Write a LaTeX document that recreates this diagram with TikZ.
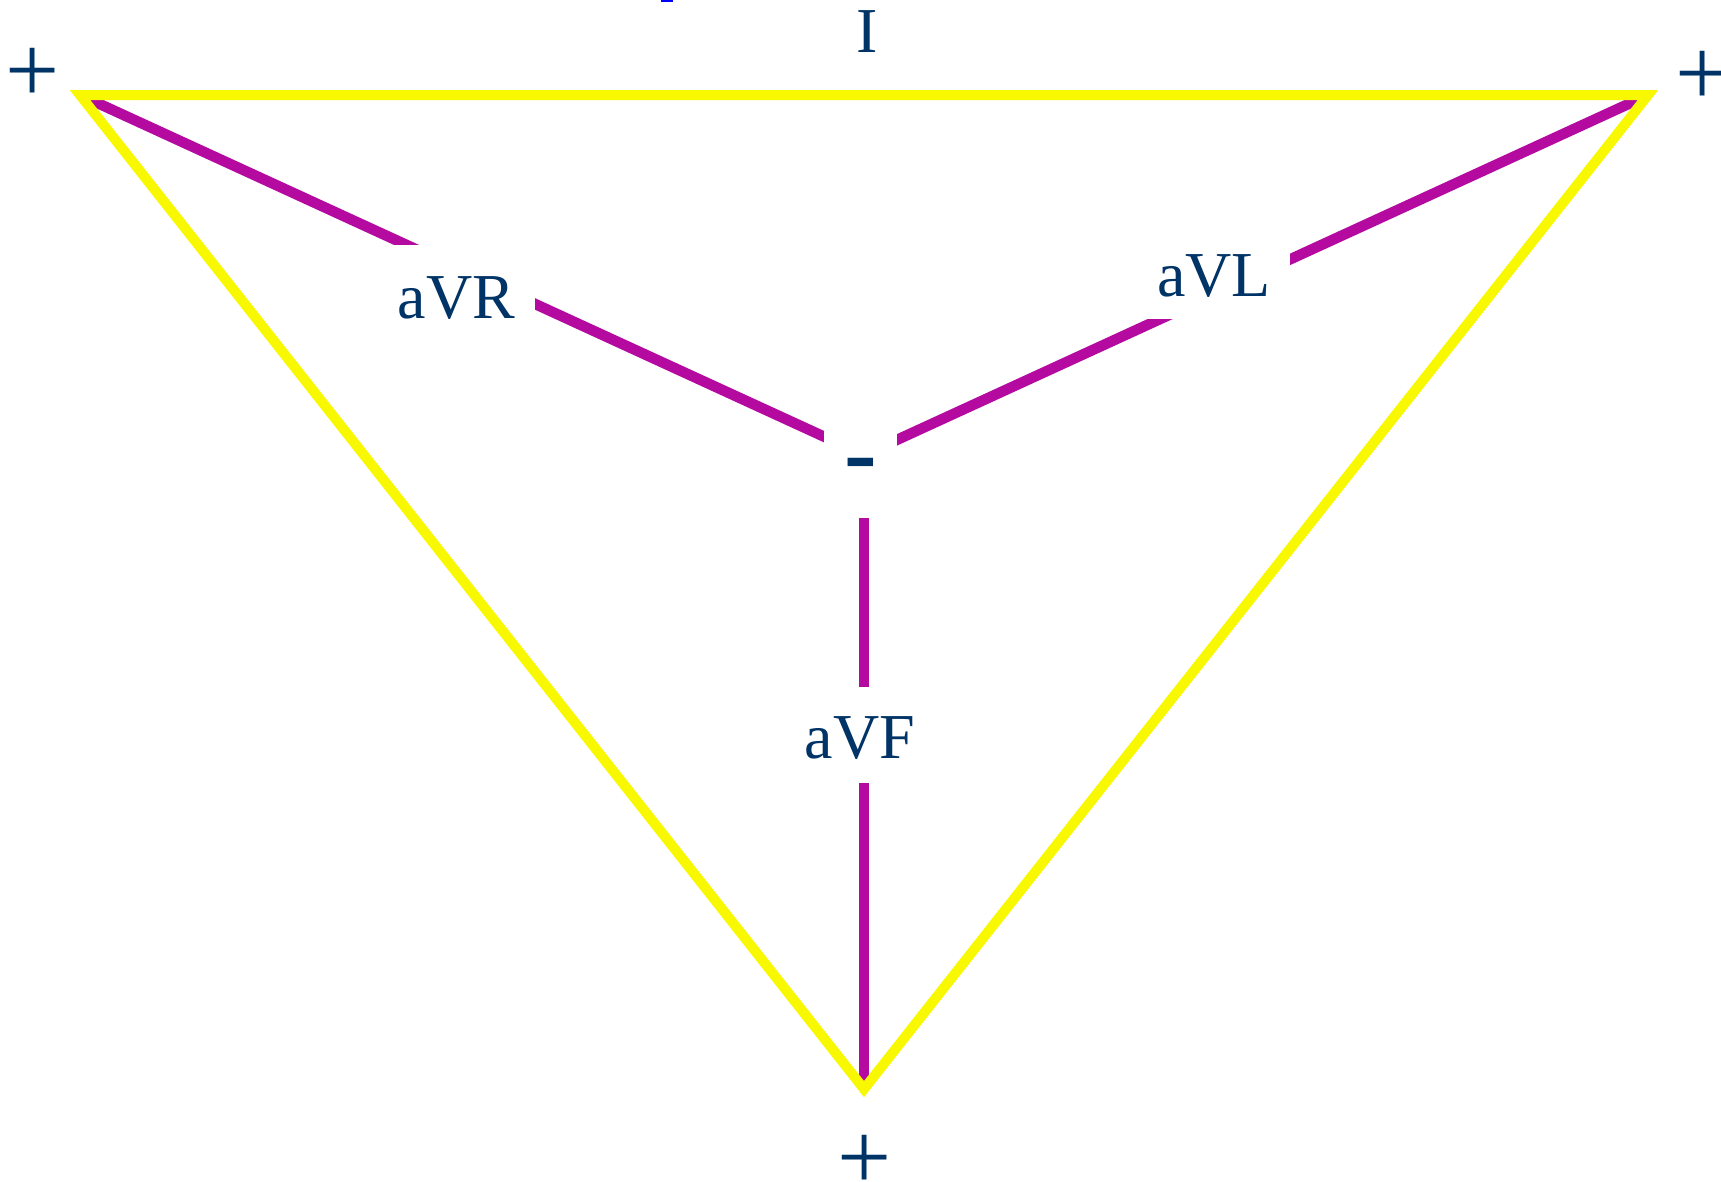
\documentclass[tikz,border=0pt]{standalone}
\usepackage{fontspec}
\setmainfont{Liberation Serif}
\definecolor{leadmag}{RGB}{180,10,160}
\definecolor{triyel}{RGB}{248,248,0}
\definecolor{navy}{RGB}{0,51,102}
\tikzset{
  lead/.style={draw=leadmag,line width=10.5pt},
  tri/.style={draw=triyel,line width=10pt,line join=miter},
  cover/.style={fill=white},
  lbl/.style={text=navy,inner sep=0pt,anchor=base,font=\fontsize{64}{70}\selectfont},
  pol/.style={text=navy,inner sep=0pt,anchor=base,font=\fontsize{96}{100}\selectfont},
  neg/.style={text=navy,inner sep=0pt,anchor=base,font=\fontsize{98}{100}\selectfont\bfseries}
}
\begin{document}
\begin{tikzpicture}[x=1pt,y=-1pt]
\useasboundingbox (0,0) rectangle (1721,1181);
\coordinate (A) at (80,95);
\coordinate (B) at (1648,95);
\coordinate (C) at (864,1089);
\coordinate (O) at (864,455);
% leads
\draw[lead] (A) -- (O);
\draw[lead] (B) -- (O);
\draw[lead] (C) -- (O);
% Einthoven triangle
\draw[tri] (A) -- (B) -- (C) -- cycle;
% text boxes covering the leads
\fill[cover] (377,245) rectangle (535,340);
\fill[cover] (1120,225) rectangle (1290,319);
\fill[cover] (824,400) rectangle (897,518);
\fill[cover] (800,687) rectangle (925,783);
% labels
\node[lbl] (aVR) at (456.5,318) {aVR};
\node[lbl] (aVL) at (1214,296) {aVL};
\node[lbl] (aVF) at (860,758) {aVF};
\node[lbl] (I) at (867,52) {I};
\node[neg] (minus) at (861,485.5) {-};
\node[pol] (pA) at (32.4,102) {+};
\node[pol] (pB) at (1703,105.4) {+};
\node[pol] (pC) at (864.5,1189.4) {+};
\fill[blue] (661,0) rectangle (673,2);
\end{tikzpicture}
\end{document}
